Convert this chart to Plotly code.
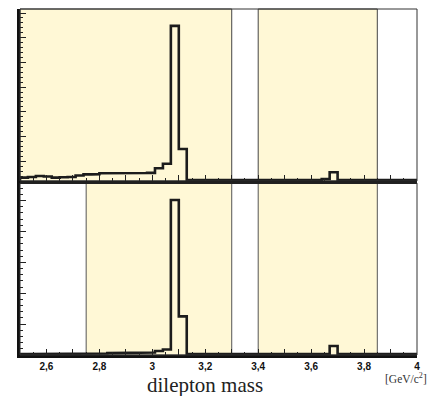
import numpy as np
import plotly.graph_objects as go

# ---- data ----
bin_lo = 2.5
bin_width = 0.03
n_bins = 50
bin_edges = np.round(bin_lo + bin_width * np.arange(n_bins + 1), 3)

top_counts = [34, 40, 50, 45, 34, 38, 40, 55, 67, 68,
              78, 80, 74, 75, 80, 80, 82, 128, 175, 1570,
              323, 10, 9, 8, 8, 9, 8, 7, 8, 8,
              7, 8, 8, 7, 8, 8, 7, 9, 20, 88,
              12, 9, 8, 8, 9, 8, 7, 8, 7, 8]
bottom_counts = [3, 3, 3, 3, 3, 3, 3, 3, 4, 5,
                 5, 6, 6, 6, 7, 7, 8, 13, 18, 502,
                 125, 3, 3, 3, 3, 3, 3, 3, 3, 3,
                 3, 3, 3, 3, 3, 3, 3, 3, 4, 29,
                 3, 3, 3, 3, 3, 3, 3, 3, 3, 3]

top_regions = [(2.5, 3.3), (3.4, 3.85)]
bottom_regions = [(2.75, 3.3), (3.4, 3.85)]

x_range = [2.5, 4.0]
x_tickvals = [2.5, 2.6, 2.7, 2.8, 2.9, 3.0, 3.1, 3.2, 3.3, 3.4, 3.5, 3.6, 3.7, 3.8, 3.9, 4.0]
x_ticktext = ["", "2,6", "", "2,8", "", "3", "", "3,2", "", "3,4", "", "3,6", "", "3,8", "", "4"]

top_y_range = [0, 1741]
bottom_y_range = [0, 557]

FILL = "#fff8d6"
HIST = "#1c1c1c"


def step_xy(edges, counts):
    xs = [edges[0]]
    ys = [0]
    for i, c in enumerate(counts):
        xs += [edges[i], edges[i + 1]]
        ys += [c, c]
    xs.append(edges[-1])
    ys.append(0)
    return xs, ys


fig = go.Figure()

tx, ty = step_xy(bin_edges, top_counts)
bx, by = step_xy(bin_edges, bottom_counts)
fig.add_trace(go.Scatter(x=tx, y=ty, mode="lines", line=dict(color=HIST, width=2.6),
                         xaxis="x", yaxis="y", showlegend=False, hoverinfo="skip"))
fig.add_trace(go.Scatter(x=bx, y=by, mode="lines", line=dict(color=HIST, width=2.6),
                         xaxis="x2", yaxis="y2", showlegend=False, hoverinfo="skip"))

shapes = []
for (a, b) in top_regions:
    shapes.append(dict(type="rect", xref="x", yref="y domain", x0=a, x1=b, y0=0, y1=1,
                       fillcolor=FILL, line=dict(color="#444", width=1), layer="below"))
for (a, b) in bottom_regions:
    shapes.append(dict(type="rect", xref="x2", yref="y2 domain", x0=a, x1=b, y0=0, y1=1,
                       fillcolor=FILL, line=dict(color="#555", width=1), layer="below"))
# thin frames
shapes.append(dict(type="rect", xref="x domain", yref="y domain", x0=0, x1=1, y0=0, y1=1,
                   line=dict(color="#333", width=1), layer="above"))
shapes.append(dict(type="rect", xref="x2 domain", yref="y2 domain", x0=0, x1=1, y0=0, y1=1,
                   line=dict(color="#333", width=1), layer="above"))

tickfont = dict(family="Liberation Sans", size=10, color="#111")

xcommon = dict(range=x_range, showgrid=False, zeroline=False, showline=True,
               linecolor="#111", linewidth=3, ticks="inside", ticklen=6, tickwidth=1.2,
               tickcolor="#222", tickvals=x_tickvals,
               minor=dict(dtick=0.05, tick0=2.5, ticks="inside", ticklen=3, tickcolor="#222", tickwidth=1.2))

fig.update_layout(
    width=428, height=388,
    margin=dict(l=12, r=19, t=1, b=41),
    paper_bgcolor="white", plot_bgcolor="white",
    shapes=shapes,
    xaxis=dict(xcommon, domain=[0, 1], anchor="y", showticklabels=False),
    yaxis=dict(domain=[0.503, 1], range=top_y_range, anchor="x", showgrid=False,
               zeroline=False, showline=True, linecolor="#111", linewidth=2.5,
               ticks="inside", ticklen=6, tickwidth=1.2, tickcolor="#222",
               tick0=200, dtick=250, showticklabels=False,
               minor=dict(dtick=50, tick0=0, ticks="inside", ticklen=3, tickcolor="#222", tickwidth=1.2)),
    xaxis2=dict(xcommon, domain=[0, 1], anchor="y2", showticklabels=True,
                ticktext=["<b>%s</b>" % t if t else "" for t in x_ticktext], tickfont=tickfont),
    yaxis2=dict(domain=[0, 0.497], range=bottom_y_range, anchor="x2", showgrid=False,
                zeroline=False, showline=True, linecolor="#111", linewidth=2.5,
                ticks="inside", ticklen=6, tickwidth=1.2, tickcolor="#222",
                tick0=0, dtick=100, showticklabels=False,
                minor=dict(dtick=20, tick0=0, ticks="inside", ticklen=3, tickcolor="#222", tickwidth=1.2)),
)

fig.add_annotation(text="dilepton mass", xref="paper", yref="paper", x=0.466, y=-0.046,
                   xanchor="center", yanchor="top", showarrow=False,
                   font=dict(family="Liberation Serif", size=21, color="#222"))
fig.add_annotation(text="[GeV/c<sup>2</sup>]",
                   xref="paper", yref="paper", x=1.03, y=-0.04,
                   xanchor="right", yanchor="top", showarrow=False,
                   font=dict(family="Liberation Serif", size=11.5, color="#333"))

fig.write_html("out.html")
